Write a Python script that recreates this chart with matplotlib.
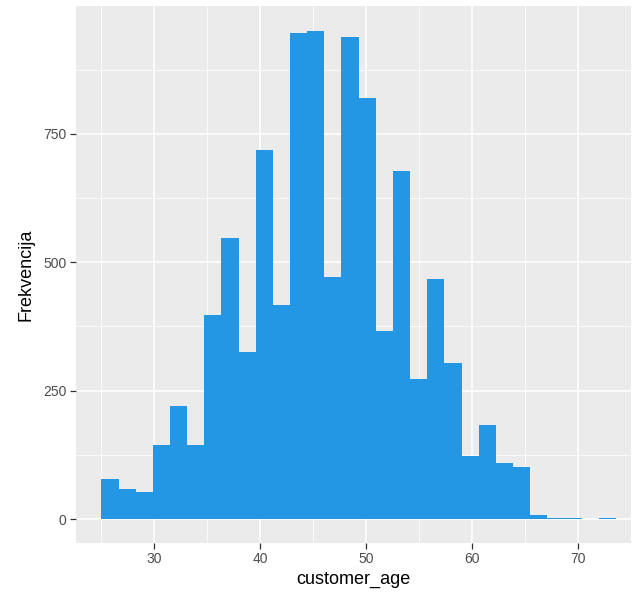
import matplotlib
matplotlib.use('Agg')
import matplotlib.pyplot as plt
import numpy as np

# histogram of customer_age, 30 bins
bin_start = 25.0
bin_width = 1.62
counts = [79, 58, 53, 145, 221, 145, 397, 547, 326, 719,
          417, 946, 951, 471, 938, 820, 367, 678, 273, 467,
          304, 123, 183, 109, 101, 8, 2, 2, 0, 2]

x_ticks = [30, 40, 50, 60, 70]
y_ticks = [0, 250, 500, 750]

bar_color = '#2397E3'
panel_bg = '#EBEBEB'
text_col = '#4D4D4D'

plt.rcParams['font.family'] = ['Liberation Sans', 'DejaVu Sans']

edges = bin_start + bin_width * np.arange(len(counts) + 1)

fig = plt.figure(figsize=(6.32, 6.0), dpi=100)
ax = fig.add_axes([76 / 632, (600 - 542.7) / 600,
                   (630.7 - 76) / 632, (542.7 - 6) / 600])
ax.set_facecolor(panel_bg)

ax.stairs(counts, edges, fill=True, color=bar_color, zorder=3)

ax.set_xlim(22.6, 74.9)
ax.set_ylim(-46, 999)

ax.set_xticks(x_ticks)
ax.set_xticks([25, 35, 45, 55, 65, 75], minor=True)
ax.set_yticks(y_ticks)
ax.set_yticks([125, 375, 625, 875], minor=True)

ax.grid(which='major', color='white', linewidth=1.1, zorder=0)
ax.grid(which='minor', color='white', linewidth=0.55, zorder=0)
ax.set_axisbelow(True)

for s in ax.spines.values():
    s.set_visible(False)

ax.tick_params(which='major', length=4, width=0.9, color='#333333',
               labelcolor=text_col, labelsize=10, pad=3)
ax.tick_params(which='minor', length=0)

ax.set_xlabel('customer_age', fontsize=13, color='black', labelpad=3)
ax.set_ylabel('Frekvencija', fontsize=13, color='black', labelpad=6)

fig.savefig('out.png', dpi=100, facecolor='white')
